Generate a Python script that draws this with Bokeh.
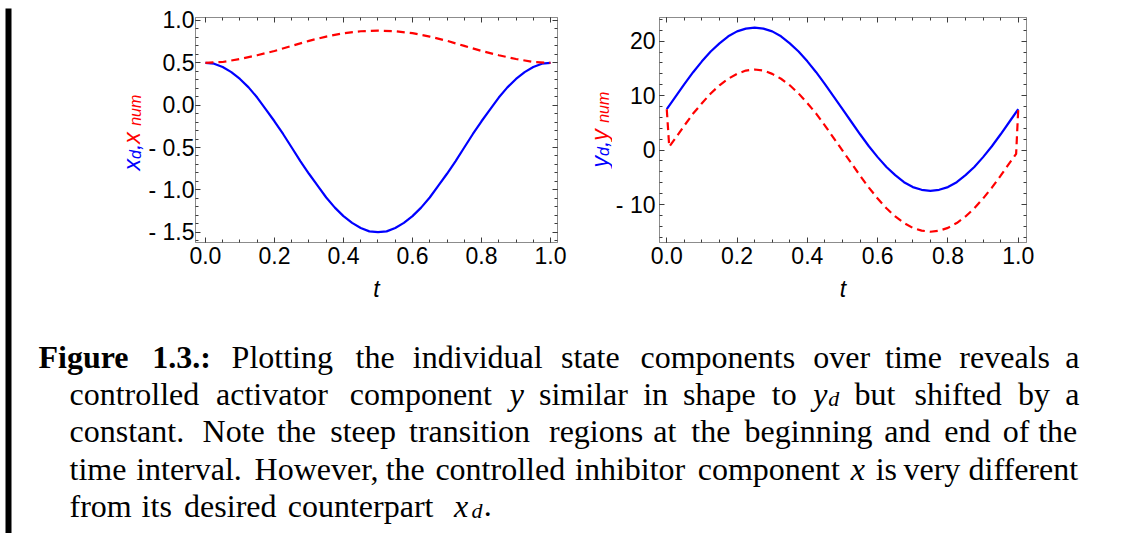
import math
from bokeh.plotting import figure
from bokeh.layouts import row, column
from bokeh.models import Range1d, LinearAxis, SingleIntervalTicker, CustomJSTickFormatter, Label
from bokeh.core.properties import value
from bokeh.embed import file_html
from bokeh.resources import INLINE

# ---------------------------------------------------------------- data
t = [0.0, 0.025, 0.05, 0.075, 0.1, 0.125, 0.15, 0.175, 0.2, 0.225, 0.25,
     0.275, 0.3, 0.325, 0.35, 0.375, 0.4, 0.425, 0.45, 0.475, 0.5,
     0.525, 0.55, 0.575, 0.6, 0.625, 0.65, 0.675, 0.7, 0.725, 0.75,
     0.775, 0.8, 0.825, 0.85, 0.875, 0.9, 0.925, 0.95, 0.975, 1.0]

# desired inhibitor x_d(t)
x_d = [0.50, 0.49, 0.45, 0.39, 0.31, 0.21, 0.09, -0.05, -0.19, -0.34, -0.50,
       -0.66, -0.81, -0.95, -1.09, -1.21, -1.31, -1.39, -1.45, -1.49, -1.50,
       -1.49, -1.45, -1.39, -1.31, -1.21, -1.09, -0.95, -0.81, -0.66, -0.50,
       -0.34, -0.19, -0.05, 0.09, 0.21, 0.31, 0.39, 0.45, 0.49, 0.50]

# numerical inhibitor x_num(t)
t_x_num = [0.0, 0.05, 0.1, 0.15, 0.2, 0.25, 0.3, 0.35, 0.4, 0.45, 0.5,
           0.55, 0.6, 0.65, 0.7, 0.75, 0.8, 0.85, 0.9, 0.95, 1.0]
x_num = [0.50, 0.51, 0.545, 0.59, 0.64, 0.70, 0.76, 0.81, 0.85, 0.873, 0.88,
         0.873, 0.85, 0.81, 0.76, 0.70, 0.64, 0.59, 0.545, 0.51, 0.50]

# desired activator y_d(t)
y_d = [7.5, 9.8, 12.1, 14.3, 16.3, 18.1, 19.6, 20.9, 21.8, 22.3, 22.5,
       22.3, 21.8, 20.9, 19.6, 18.1, 16.3, 14.3, 12.1, 9.8, 7.5,
       5.2, 2.9, 0.7, -1.3, -3.1, -4.6, -5.9, -6.8, -7.3, -7.5,
       -7.3, -6.8, -5.9, -4.6, -3.1, -1.3, 0.7, 2.9, 5.2, 7.5]

# numerical activator y_num(t), with the steep boundary layers at both ends
t_y_num = [0.0, 0.007, 0.025, 0.05, 0.075, 0.1, 0.125, 0.15, 0.175, 0.2, 0.225, 0.25,
           0.275, 0.3, 0.325, 0.35, 0.375, 0.4, 0.425, 0.45, 0.475, 0.5,
           0.525, 0.55, 0.575, 0.6, 0.625, 0.65, 0.675, 0.7, 0.725, 0.75,
           0.775, 0.8, 0.825, 0.85, 0.875, 0.9, 0.925, 0.95, 0.975, 0.994, 1.0]
y_num = [7.5, 0.6, 2.2, 4.5, 6.7, 8.6, 10.4, 11.9, 13.1, 14.0, 14.6, 14.8,
         14.6, 14.0, 13.1, 11.9, 10.4, 8.6, 6.7, 4.5, 2.2, -0.1,
         -2.4, -4.7, -6.9, -8.9, -10.7, -12.2, -13.4, -14.3, -14.8, -15.0,
         -14.8, -14.3, -13.4, -12.2, -10.7, -8.9, -6.9, -4.7, -2.4, -0.7, 7.5]

# caption lines (words; a word may be a list of styled runs)
caption_lines = [
    [[("Figure", "bf")], [("1.3.:", "bf")], "Plotting", "the", "individual", "state",
     "components", "over", "time", "reveals", "a"],
    ["controlled", "activator", "component", [("y", "it")], "similar", "in", "shape", "to",
     [("y", "it"), ("d", "sub")], "but", "shifted", "by", "a"],
    "constant. Note the steep transition regions at the beginning and end of the".split(),
    ["time", "interval.", "However,", "the", "controlled", "inhibitor", "component",
     [("x", "it")], "is", "very", "different"],
    ["from", "its", "desired", "counterpart", [("x", "it"), ("d", "sub"), (".", "rm")]],
]

# ---------------------------------------------------------------- styling
BLUE = "#0000ff"
RED = "#ff0000"
FRAME = "#8c8c8c"
TICK = "#3c3c3c"
SANS = "Liberation Sans"
SERIF = "Liberation Serif"
TICK_PX = "23px"

FIG_H = 310
CAP_H = 223
PAGE_H = FIG_H + CAP_H
BAR_W = 12
FRAME_TOP = 17      # shared frame top of the top row (frames are aligned across the row)
FRAME_BOT = 242     # shared frame bottom

signed_1 = CustomJSTickFormatter(code="""
const v = Math.abs(tick) < 1e-9 ? 0 : tick;
const s = Math.abs(v).toFixed(1);
return v < 0 ? "- " + s : s;
""")
signed_0 = CustomJSTickFormatter(code="""
const v = Math.abs(tick) < 1e-9 ? 0 : tick;
const s = Math.abs(v).toFixed(0);
return v < 0 ? "- " + s : s;
""")
blank = CustomJSTickFormatter(code="return '';")


def bare_figure(width, height, xr, yr, top=0, bottom=0):
    """A figure without axes whose data coordinates are page pixels."""
    f = figure(width=width, height=height, x_range=Range1d(*xr), y_range=Range1d(*yr),
               x_axis_type=None, y_axis_type=None, output_backend="svg",
               toolbar_location=None, tools="",
               min_border=0, min_border_left=0, min_border_right=0,
               min_border_top=top, min_border_bottom=bottom)
    f.outline_line_color = None
    f.background_fill_color = "white"
    f.border_fill_color = "white"
    return f


def style_axis(ax, labelled, standoff=0):
    ax.axis_line_color = FRAME
    ax.axis_line_width = 1
    ax.major_tick_in = 5
    ax.major_tick_out = 0
    ax.minor_tick_in = 3
    ax.minor_tick_out = 0
    ax.major_tick_line_color = TICK
    ax.minor_tick_line_color = TICK
    if labelled:
        ax.major_label_text_font = SANS
        ax.major_label_text_font_size = TICK_PX
        ax.major_label_text_color = "black"
        ax.major_label_standoff = standoff
    else:
        ax.formatter = blank
        ax.major_label_text_font_size = "0px"
        ax.major_label_standoff = 0


def framed_plot(width, left, right, xr, yr, x_step, x_minor, y_step, y_minor, y_fmt, y_standoff):
    p = figure(width=width, height=FIG_H, x_range=Range1d(*xr), y_range=Range1d(*yr),
               x_axis_type=None, y_axis_type=None, output_backend="svg",
               toolbar_location=None, tools="",
               min_border_left=left, min_border_right=right,
               min_border_top=FRAME_TOP, min_border_bottom=FIG_H - FRAME_BOT)
    p.outline_line_color = FRAME
    p.background_fill_color = "white"
    p.border_fill_color = "white"

    xb = LinearAxis(ticker=SingleIntervalTicker(interval=x_step, num_minor_ticks=x_minor),
                    formatter=CustomJSTickFormatter(code="return tick.toFixed(1);"))
    style_axis(xb, True, 4)
    xb.axis_label = "t"
    xb.axis_label_text_font = SANS
    xb.axis_label_text_font_style = "italic"
    xb.axis_label_text_font_size = TICK_PX
    xb.axis_label_text_color = "black"
    xb.axis_label_standoff = 9
    p.add_layout(xb, "below")

    xt = LinearAxis(ticker=SingleIntervalTicker(interval=x_step, num_minor_ticks=x_minor))
    style_axis(xt, False)
    p.add_layout(xt, "above")

    yl = LinearAxis(ticker=SingleIntervalTicker(interval=y_step, num_minor_ticks=y_minor),
                    formatter=y_fmt)
    style_axis(yl, True, y_standoff)
    p.add_layout(yl, "left")

    yr_ax = LinearAxis(ticker=SingleIntervalTicker(interval=y_step, num_minor_ticks=y_minor))
    style_axis(yr_ax, False)
    p.add_layout(yr_ax, "right")
    return p


# Arial-like advance widths (em) for the rotated axis titles
SANS_W = {"x": 0.5, "y": 0.5, "d": 0.556, "n": 0.556, "u": 0.556, "m": 0.833,
          ",": 0.278, " ": 0.278}
TITLE_PX = 23
TITLE_SUB_PX = 16
SUB_DROP = 3.5


def vertical_title(f, bx, by, pieces):
    """Rotated multi-colour title reading bottom to top; (bx, by) in page pixels."""
    adv = 0.0
    for text, is_sub, color in pieces:
        size = TITLE_SUB_PX if is_sub else TITLE_PX
        drop = SUB_DROP if is_sub else 0
        f.text(x=[bx + drop], y=[by - adv], text=[text], angle=math.pi / 2,
               text_align="left", text_baseline="alphabetic",
               text_font=value(SANS), text_font_style="italic",
               text_font_size=f"{size}px", text_color=color)
        adv += sum(SANS_W.get(c, 0.55) for c in text) * size


# horizontal page positions of the strips in the top row
X_LAB1, X_P1, X_LAB2, X_P2, X_END = BAR_W, 145, 575, 612, 1125

# ---------------------------------------------------------------- y-axis title strips
# their frames share the row's frame top/bottom, so the y range runs over those pixels
lab1 = bare_figure(X_P1 - X_LAB1, FIG_H, (X_LAB1, X_P1), (FRAME_BOT, FRAME_TOP),
                   FRAME_TOP, FIG_H - FRAME_BOT)
vertical_title(lab1, 131, 170, [
    ("x", False, BLUE), ("d", True, BLUE), (",", False, BLUE),
    (" x", False, RED), ("num", True, RED)])

lab2 = bare_figure(X_P2 - X_LAB2, FIG_H, (X_LAB2, X_P2), (FRAME_BOT, FRAME_TOP),
                   FRAME_TOP, FIG_H - FRAME_BOT)
vertical_title(lab2, 599, 167, [
    ("y", False, BLUE), ("d", True, BLUE), (",", False, BLUE),
    (" y", False, RED), ("num", True, RED)])

# ---------------------------------------------------------------- left panel: x
p1 = framed_plot(X_LAB2 - X_P1, 193 - X_P1, X_LAB2 - 557,
                 (-0.0288, 1.0202), (-1.6216, 1.0354),
                 0.2, 4, 0.5, 5, signed_1, 1)
p1.line(t, x_d, line_color=BLUE, line_width=2.2)
p1.line(t_x_num, x_num, line_color=RED, line_width=2.2, line_dash="8 5")

# ---------------------------------------------------------------- right panel: y
p2 = framed_plot(X_END - X_P2, 657 - X_P2, X_END - 1026,
                 (-0.0207, 1.0235), (-16.98, 24.35),
                 0.2, 4, 10, 5, signed_0, 4)
p2.line(t, y_d, line_color=BLUE, line_width=2.2)
p2.line(t_y_num, y_num, line_color=RED, line_width=2.2, line_dash="8 5")

# ---------------------------------------------------------------- caption
cap = bare_figure(X_END - BAR_W, CAP_H, (BAR_W, X_END), (PAGE_H, FIG_H))

# Computer-Modern-like advance widths (em) used to set the justified lines
RM = dict(a=.5, b=.556, c=.444, d=.556, e=.444, f=.306, g=.5, h=.556, i=.278, j=.306,
          k=.528, l=.278, m=.833, n=.556, o=.5, p=.556, q=.528, r=.392, s=.394, t=.389,
          u=.556, v=.528, w=.722, x=.528, y=.528, z=.444)
RM.update({"P": .681, "N": .75, "H": .75, ".": .278, ",": .278, ":": .278})
BF = {"F": .707, "i": .319, "g": .575, "u": .639, "r": .474, "e": .527,
      "1": .575, "3": .575, ".": .319, ":": .319}
MI = {"x": .572, "y": .490, "d": .520}
EM = 30.5
FONT_PX = 32
SUB_PX = 22


def run_width(text, style):
    if style == "bf":
        return sum(BF.get(c, .575) for c in text) * EM
    if style == "it":
        return sum(MI.get(c, .5) for c in text) * EM
    if style == "sub":
        return sum(MI.get(c, .5) for c in text) * 0.77 * EM
    return sum(RM.get(c, .5) for c in text) * EM


def as_runs(word):
    return [(word, "rm")] if isinstance(word, str) else word


def word_width(word):
    return sum(run_width(tx, st) for tx, st in as_runs(word))


line_left = [38, 69, 69, 69, 69]
justified = [True, True, True, True, False]
baselines = [356.0, 393.3, 430.6, 468.0, 505.3]
RIGHT_EDGE = 1080

for words, x0, just, base in zip(caption_lines, line_left, justified, baselines):
    widths = [word_width(w) for w in words]
    if just:
        gap = (RIGHT_EDGE - x0 - sum(widths)) / (len(words) - 1)
    else:
        gap = 0.333 * EM
    x = x0
    for w, wd in zip(words, widths):
        rx = x
        for tx, st in as_runs(w):
            size = SUB_PX if st == "sub" else FONT_PX
            style = {"bf": "bold", "it": "italic", "sub": "italic"}.get(st, "normal")
            cap.add_layout(Label(x=rx, y=base + (5 if st == "sub" else 0), text=tx,
                                 text_align="left", text_baseline="alphabetic",
                                 text_font=SERIF, text_font_style=style,
                                 text_font_size=f"{size}px", text_color="black"))
            rx += run_width(tx, st)
        x += wd + gap

# ---------------------------------------------------------------- left rule
bar = figure(width=BAR_W, height=PAGE_H, x_axis_type=None, y_axis_type=None,
             output_backend="svg", toolbar_location=None, tools="",
             min_border_left=5, min_border_right=1, min_border_top=8, min_border_bottom=0)
bar.outline_line_color = None
bar.background_fill_color = "black"
bar.border_fill_color = "white"

top_row = row(lab1, p1, lab2, p2, spacing=0)
layout = row(bar, column(top_row, cap, spacing=0), spacing=0)

with open("out.html", "w") as f:
    f.write(file_html(layout, INLINE))
